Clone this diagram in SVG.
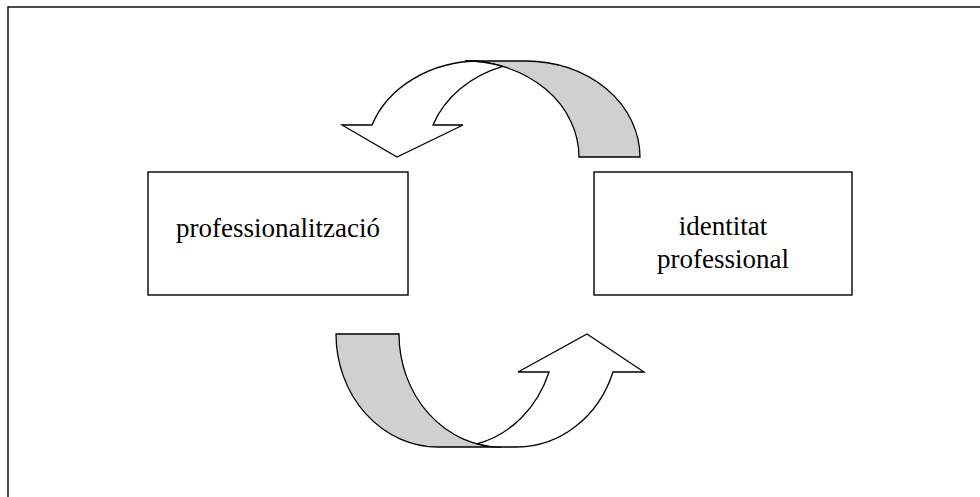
<svg xmlns="http://www.w3.org/2000/svg" width="980" height="497" viewBox="0 0 980 497">
  <style>
    .frame { fill: none; stroke: #000; stroke-width: 1.4; }
    .box { fill: #fff; stroke: #000; stroke-width: 1.4; }
    .band { stroke: #000; stroke-width: 1.3; stroke-linejoin: miter; }
    .front { fill: #fff; }
    .back { fill: #d0d0d0; }
    .label { font-family: "Liberation Serif", "Times New Roman", serif; font-size: 27px; fill: #000; text-anchor: middle; }
  </style>
  <rect width="980" height="497" fill="#fff"/>
  <!-- outer frame, running past the right and bottom edges -->
  <rect class="frame" x="8" y="7" width="990" height="500"/>

  <g id="connectors">
    <!-- upper curved arrow: each band lies between two equal ellipses shifted sideways -->
    <g id="arrow-top">
      <path class="band back" d="M 640 157 L 579 157 A 114 96 0 0 0 465 61 L 526 61 A 114 96 0 0 1 640 157 Z"/>
      <path class="band front" d="M 502.7 66.4 A 114 96 0 0 0 433 125 L 463 125 L 397 157 L 342 125 L 372 125 A 114 96 0 0 1 479.5 61 L 465 61 A 114 96 0 0 1 502.7 66.4 Z"/>
    </g>
    <!-- lower curved arrow: same construction, turned upward -->
    <g id="arrow-bottom">
      <path class="band back" d="M 336 334 L 399 334 A 102 113 0 0 0 501 447 L 438 447 A 102 113 0 0 1 336 334 Z"/>
      <path class="band front" d="M 477 443.8 A 102 113 0 0 0 549 372 L 518 372 L 587 334 L 644 372 L 613 372 A 102 113 0 0 1 517 447 L 501 447 A 102 113 0 0 1 477 443.8 Z"/>
    </g>
  </g>

  <g id="node-professionalitzacio">
    <rect class="box" x="148" y="172" width="260" height="123"/>
    <text class="label" x="278" y="237">professionalització</text>
  </g>

  <g id="node-identitat">
    <rect class="box" x="594" y="172" width="258" height="123"/>
    <text class="label" x="723" y="235">identitat</text>
    <text class="label" x="723" y="268">professional</text>
  </g>
</svg>
